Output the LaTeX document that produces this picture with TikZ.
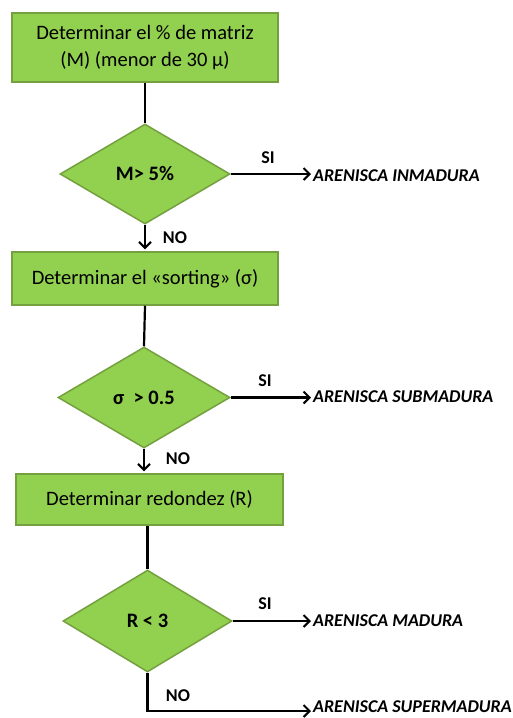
\documentclass[tikz,border=0pt]{standalone}
\usepackage{fontspec}
\setmainfont{Carlito}
\usetikzlibrary{shapes.geometric,arrows.meta}
\definecolor{boxgreen}{RGB}{146,208,80}
\definecolor{boxedge}{RGB}{116,160,64}
\tikzset{
  procbox/.style={draw=boxedge,fill=boxgreen,line width=1.5pt,align=center,font=\fontsize{20.5}{27}\selectfont,inner sep=2pt},
  decbox/.style={diamond,draw=boxedge,fill=boxgreen,line width=1.5pt,font=\bfseries\fontsize{20.5}{24}\selectfont,inner sep=0pt},
  lbl/.style={font=\bfseries\fontsize{18}{20}\selectfont,inner sep=0pt},
  result/.style={font=\bfseries\itshape\fontsize{18}{21}\selectfont,anchor=west,inner sep=0pt},
  conn/.style={line width=2.2pt,black},
  arr/.style={conn,-{Straight Barb[length=6pt,width=12pt,line width=2pt]},shorten >=2pt}
}
\begin{document}
\begin{tikzpicture}[x=1pt,y=-1pt]
\useasboundingbox (0,0) rectangle (513,718);
\node[procbox,minimum width=266pt,minimum height=69pt] (b1) at (145,47.5) {Determinar el \% de matriz\\(M) (menor de 30 µ)};
\node[decbox,minimum width=170pt,minimum height=100pt] (d1) at (145,174) {M> 5\%};
\node[result] (r1) at (313,176) {ARENISCA INMADURA};
\node[lbl] (s1) at (268,158) {SI};
\node[lbl] (n1) at (175,238) {NO};
\node[procbox,minimum width=266pt,minimum height=53pt] (b2) at (145,278.5) {Determinar el «sorting» (σ)};
\node[decbox,minimum width=172pt,minimum height=101pt] (d2) at (144,397.5) {σ\ \ > 0.5};
\node[result] (r2) at (313,397) {ARENISCA SUBMADURA};
\node[lbl] (s2) at (265,381) {SI};
\node[lbl] (n2) at (178,459) {NO};
\node[procbox,minimum width=267pt,minimum height=51pt] (b3) at (149.5,499.5) {Determinar redondez (R)};
\node[decbox,minimum width=169pt,minimum height=102pt] (d3) at (147.5,621) {R < 3};
\node[result] (r3) at (313,621) {ARENISCA MADURA};
\node[lbl] (s3) at (265,604) {SI};
\node[lbl] (n3) at (178,696) {NO};
\node[result] (r4) at (313,707) {ARENISCA SUPERMADURA};
\coordinate (c4) at (147.5,711);
\draw[conn] (b1.south) -- (d1.north);
\draw[arr] (d1.east) -- (d1.east -| r1.west);
\draw[arr] (d1.south) -- (b2.north);
\draw[conn] (b2.south) -- (d2.north);
\draw[arr] (d2.east) -- (d2.east -| r2.west);
\draw[arr] (d2.south) -- (b3.north -| d2.south);
\draw[conn] (b3.south -| d3.north) -- (d3.north);
\draw[arr] (d3.east) -- (d3.east -| r3.west);
\draw[arr] (d3.south) -- (c4) -- (c4 -| r4.west);
\end{tikzpicture}
\end{document}
